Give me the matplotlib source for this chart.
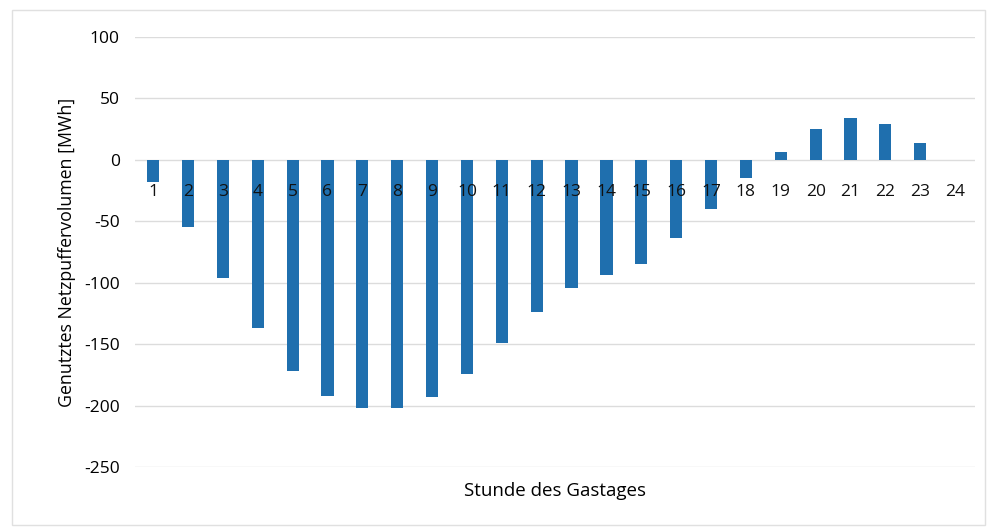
import matplotlib
matplotlib.use("Agg")
import matplotlib.pyplot as plt
from matplotlib.patches import Rectangle

hours = list(range(1, 25))
values = [-18, -55, -96, -137, -172, -192, -202, -202, -193, -174, -149, -124,
          -104, -94, -85, -64, -40, -15, 6, 25, 34, 29, 14, 0]
y_ticks = [100, 50, 0, -50, -100, -150, -200, -250]

plt.rcParams['font.family'] = ['Open Sans', 'DejaVu Sans']

fig = plt.figure(figsize=(9.89, 5.31), dpi=100)
ax = fig.add_axes([135/989, 64/531, 840/989, 430/531])

ax.bar(hours, values, width=0.35, color='#1f6fae', zorder=2)
ax.set_xlim(0.48, 24.57)
ax.set_ylim(-250, 100)
ax.set_yticks(y_ticks)
ax.set_yticklabels([str(t) for t in y_ticks], fontsize=12.5)
ax.tick_params(axis='y', length=0, pad=11)
ax.set_xticks([])
for s in ax.spines.values():
    s.set_visible(False)
ax.grid(axis='y', color='#dcdcdc', linewidth=1, zorder=0)

for h in hours:
    ax.text(h, -26, str(h), ha='center', va='center', fontsize=12.5,
            color='#111111', zorder=3)

ax.set_ylabel('Genutztes Netzpuffervolumen [MWh]', fontsize=12.8, labelpad=6)
fig.text(555/989, 1 - 491/531, 'Stunde des Gastages', ha='center', va='center',
         fontsize=13.5)

fig.patches.append(Rectangle((12/989, 6/531), 973/989, 515/531, transform=fig.transFigure,
                             fill=False, edgecolor='#e0e0e0', linewidth=1))

fig.savefig('out.png', dpi=100)
